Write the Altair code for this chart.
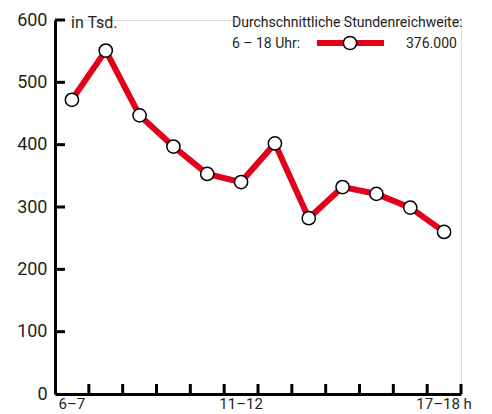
import altair as alt
import pandas as pd

hours = ["6–7", "7–8", "8–9", "9–10", "10–11", "11–12",
         "12–13", "13–14", "14–15", "15–16", "16–17", "17–18"]
reach = [472, 551, 447, 397, 353, 340, 402, 282, 332, 321, 299, 260]
y_ticks = [100, 200, 300, 400, 500, 600]
unit_label = "in Tsd."
legend_title = "Durchschnittliche Stundenreichweite:"
legend_range = "6 – 18 Uhr:"
legend_value = "376.000"

RED = "#e2001a"
INK = "#231f20"
FONT = "Roboto"

df = pd.DataFrame({"hour": hours, "reach": reach})
tick_df = pd.DataFrame({"v": y_ticks})
one = pd.DataFrame({"k": [0]})

xscale = alt.Scale(type="band", domain=hours, paddingInner=0, paddingOuter=0)
yscale = alt.Scale(domain=[0, 600], nice=False)

label_expr = ("datum.value == '6–7' ? '6–7' : datum.value == '11–12' ? '11–12' : "
              "datum.value == '17–18' ? '17–18 h' : ''")

x_enc = alt.X("hour:N", scale=xscale, title=None,
              axis=alt.Axis(labelAngle=0, ticks=False, grid=False, domain=True,
                            domainWidth=3, domainColor="black", labelExpr=label_expr,
                            labelFont=FONT, labelFontSize=15, labelColor=INK,
                            labelPadding=2, labelOverlap=False, labelBaseline="top"))
y_enc = alt.Y("reach:Q", scale=yscale, title=None,
              axis=alt.Axis(values=[0] + y_ticks, ticks=False, grid=False, domain=True,
                            domainWidth=3, domainColor="black", labelFont=FONT,
                            labelFontSize=18, labelColor=INK, labelPadding=8))

line = alt.Chart(df).mark_line(color=RED, strokeWidth=6).encode(x=x_enc, y=y_enc)
pts = alt.Chart(df).mark_point(filled=True, fill="white", stroke="black",
                               strokeWidth=1.5, size=175, opacity=1).encode(
    x=alt.X("hour:N", scale=xscale), y=alt.Y("reach:Q", scale=yscale))

yt = alt.Chart(tick_df).mark_rule(color="black", strokeWidth=3).encode(
    y=alt.Y("v:Q", scale=yscale), x=alt.value(0), x2=alt.value(10))
xt = alt.Chart(pd.DataFrame({"hour": hours})).mark_rule(color="black", strokeWidth=3).encode(
    x=alt.X("hour:N", scale=xscale, bandPosition=1), y=alt.value(374), y2=alt.value(364))

def label(txt, x, y, size, align="left"):
    return alt.Chart(pd.DataFrame({"t": [txt]})).mark_text(
        font=FONT, fontSize=size, color=INK, align=align, baseline="alphabetic").encode(
        text="t:N", x=alt.value(x), y=alt.value(y))

unit = label(unit_label, 16, 8, 16)
lt1 = label(legend_title, 177, 7, 14)
lt2 = label(legend_range, 177, 28, 14)
lt3 = label(legend_value, 351, 28, 14)
leg_line = alt.Chart(one).mark_rule(color=RED, strokeWidth=6).encode(
    x=alt.value(262), x2=alt.value(329), y=alt.value(23))
leg_pt = alt.Chart(one).mark_point(filled=True, fill="white", stroke="black",
                                   strokeWidth=1.5, size=175, opacity=1).encode(
    x=alt.value(295), y=alt.value(23))

chart = alt.layer(line, pts, yt, xt, unit, lt1, lt2, lt3, leg_line, leg_pt).properties(
    width=406, height=374,
    padding={"left": 47, "top": 12, "right": 23, "bottom": 20},
    autosize=alt.AutoSizeParams(type="none"),
).configure_view(stroke=None).configure(background="white")

chart.save("out.html", embed_options={"renderer": "svg", "actions": False})
